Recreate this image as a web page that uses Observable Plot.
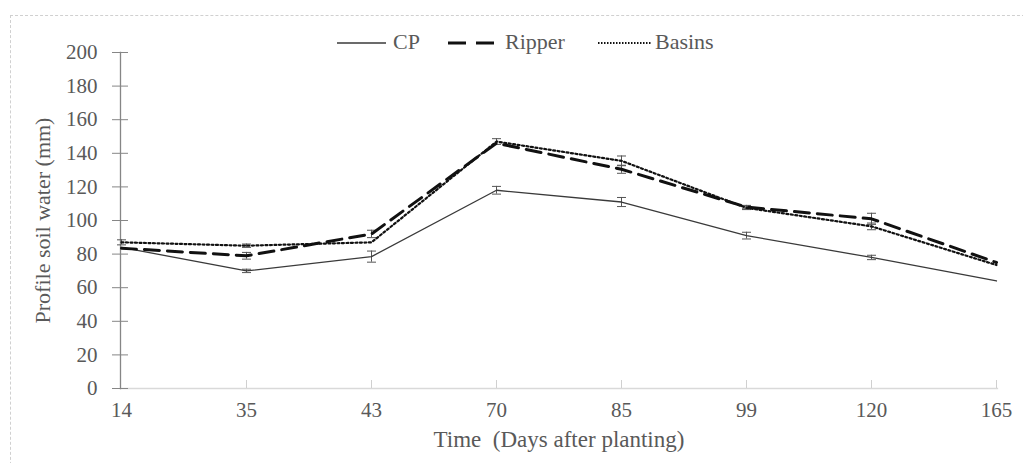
<!DOCTYPE html>
<html>
<head>
<meta charset="utf-8">
<script src="https://cdn.jsdelivr.net/npm/d3@7"></script>
<script src="https://cdn.jsdelivr.net/npm/@observablehq/plot@0.6"></script>
<style>
  html, body { margin: 0; padding: 0; background: #fff; }
  #wrap { position: relative; width: 1023px; height: 463px; overflow: hidden; }
  #border { position: absolute; left: 10px; top: 15px; width: 1030px; height: 470px;
            border-top: 1px dashed #d0d0d0; border-left: 1px dashed #d0d0d0; box-sizing: border-box; }
  #legend { position: absolute; left: 0; top: 0; width: 1023px; height: 60px;
            font-family: 'Liberation Serif', serif; font-size: 22px; color: #595959; }
  #legend .sample { position: absolute; top: 38px; }
  #legend .lab { position: absolute; top: 29px; line-height: 26px; white-space: nowrap; }
  #chart { position: absolute; left: 0; top: 0; }
</style>
</head>
<body>
<div id="wrap">
  <div id="border"></div>
  <div id="chart"></div>
  <div id="legend"></div>
</div>
<script>
const days = ["14", "35", "43", "70", "85", "99", "120", "165"];
const seriesNames = ["CP", "Ripper", "Basins"];
const cp = [84, 70, 78.5, 118, 111, 91, 78, 64];
const ripper = [83.5, 79, 92, 146, 130.5, 108, 101, 75];
const basins = [87, 85, 87, 147, 135.5, 107.5, 96.5, 73.5];
const cpErr = [0, 1, 3.3, 2.3, 2.7, 2, 1.3, 0];
const ripperErr = [0, 2, 2.2, 0, 2.4, 1, 3.3, 0];
const basinsErr = [1.5, 1, 0, 1.7, 2.9, 1, 2, 0];
const yTicks = [0, 20, 40, 60, 80, 100, 120, 140, 160, 180, 200];

const styles = {
  CP: { stroke: "#3a3a3a", strokeWidth: 1.3, dash: null },
  Ripper: { stroke: "#111", strokeWidth: 3, dash: "15,8" },
  Basins: { stroke: "#111", strokeWidth: 2.2, dash: "2,2.5" }
};

const valuesBy = { CP: cp, Ripper: ripper, Basins: basins };
const errBy = { CP: cpErr, Ripper: ripperErr, Basins: basinsErr };

const rows = [];
for (const s of seriesNames) {
  days.forEach((d, i) => rows.push({ series: s, day: d, value: valuesBy[s][i], err: errBy[s][i] }));
}
const errRows = rows.filter(r => r.err > 0);

const capSymbol = {
  draw(context, size) {
    const w = 4.5;
    context.moveTo(-w, 0);
    context.lineTo(w, 0);
  }
};

const font = "'Liberation Serif', serif";

const chart = Plot.plot({
  width: 1023,
  height: 463,
  marginLeft: 120,
  marginRight: 26,
  marginTop: 52,
  marginBottom: 75,
  style: { fontFamily: font, fontSize: "21px", color: "#595959", background: "transparent" },
  x: { type: "point", domain: days, padding: 0 },
  y: { domain: [0, 200] },
  marks: [
    Plot.frame({ anchor: "bottom", stroke: "#d9d9d9", strokeWidth: 1.3 }),
    Plot.axisX({ ticks: days.slice(1), tickSize: 8, dy: -8, text: null, stroke: "#d0d0d0", label: null }),
    Plot.axisX({ tickSize: 0, tickPadding: 14, fill: "#595959", fontSize: 21, fontFamily: font, label: null }),
    Plot.text(["Time  (Days after planting)"], {
      frameAnchor: "bottom", dy: 58, fontSize: 23, fontFamily: font, fill: "#595959", text: d => d
    }),
    Plot.frame({ anchor: "left", stroke: "#868686", strokeWidth: 1.3 }),
    Plot.axisY({ ticks: yTicks, tickSize: 16, dx: 8, text: null, stroke: "#868686", label: null }),
    Plot.axisY({ ticks: yTicks, tickSize: 0, tickPadding: 23, fill: "#595959", fontSize: 21, fontFamily: font, label: null }),
    Plot.text(["Profile soil water (mm)"], {
      frameAnchor: "left", dx: -78, rotate: -90, textAnchor: "middle",
      fontSize: 22, fontFamily: font, fill: "#595959", text: d => d
    }),
    Plot.ruleX(errRows, { x: "day", y1: d => d.value - d.err, y2: d => d.value + d.err, stroke: "#555", strokeWidth: 1 }),
    Plot.dot(errRows, { x: "day", y: d => d.value + d.err, symbol: capSymbol, stroke: "#555", strokeWidth: 1, r: 4 }),
    Plot.dot(errRows, { x: "day", y: d => d.value - d.err, symbol: capSymbol, stroke: "#555", strokeWidth: 1, r: 4 }),
    ...seriesNames.map(s => Plot.line(rows.filter(r => r.series === s), {
      x: "day", y: "value",
      stroke: styles[s].stroke, strokeWidth: styles[s].strokeWidth,
      strokeDasharray: styles[s].dash, strokeLinejoin: "round", curve: "linear"
    }))
  ]
});
document.getElementById("chart").appendChild(chart);

// legend (HTML, above the plot area)
const legend = document.getElementById("legend");
const legendLayout = {
  CP: { lineX: 337, lineW: 49, textX: 393 },
  Ripper: { lineX: 448, lineW: 46, textX: 505 },
  Basins: { lineX: 598, lineW: 54, textX: 655 }
};
for (const s of seriesNames) {
  const L = legendLayout[s];
  const svg = d3.create("svg").attr("class", "sample").attr("width", L.lineW).attr("height", 10)
    .style("left", L.lineX + "px");
  svg.append("line").attr("x1", 0).attr("x2", L.lineW).attr("y1", 5).attr("y2", 5)
    .attr("stroke", styles[s].stroke)
    .attr("stroke-width", s === "Basins" ? 1.8 : s === "Ripper" ? 3 : 1.3)
    .attr("stroke-dasharray", s === "Ripper" ? "18,10" : s === "Basins" ? "1.5,1.5" : null);
  legend.appendChild(svg.node());
  const label = document.createElement("div");
  label.className = "lab";
  label.style.left = L.textX + "px";
  label.textContent = s;
  legend.appendChild(label);
}
</script>
</body>
</html>
